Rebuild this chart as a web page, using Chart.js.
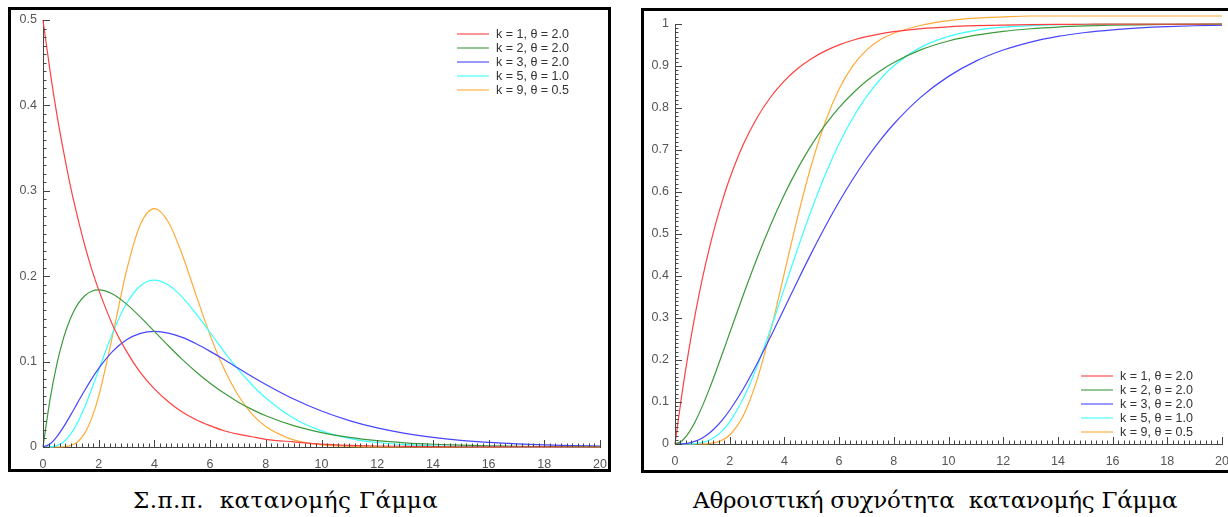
<!DOCTYPE html>
<html>
<head>
<meta charset="utf-8">
<script src="https://cdn.jsdelivr.net/npm/chart.js@4.4.1/dist/chart.umd.min.js"></script>
<style>
  body { margin: 0; width: 1228px; height: 517px; background: #fff; position: relative; overflow: hidden; }
  .frame { position: absolute; border: 3px solid #000; box-sizing: border-box; }
  .frame canvas { display: block; }
  .caption { position: absolute; font-family: "DejaVu Serif", serif; font-size: 23px; color: #000; white-space: pre; }
</style>
</head>
<body>
<div class="frame" style="left:8px;top:7px;width:603px;height:465px"><canvas id="pdfChart" width="597" height="459"></canvas></div>
<div class="frame" style="left:641px;top:8px;width:591px;height:465px"><canvas id="cdfChart" width="585" height="459"></canvas></div>
<div class="caption" style="left:133px;top:487px;letter-spacing:0.45px">Σ.π.π.  κατανομής Γάμμα</div>
<div class="caption" style="left:693px;top:487px;letter-spacing:-0.22px">Αθροιστική συχνότητα  κατανομής Γάμμα</div>
<script>
var xs = [0, 0.25, 0.5, 0.75, 1, 1.25, 1.5, 1.75, 2, 2.5, 3, 3.5, 4, 4.5, 5, 5.5, 6, 6.5, 7, 7.5, 8,
          9, 10, 11, 12, 13, 14, 15, 16, 17, 18, 19, 20];

var seriesLabels = ['k = 1, θ = 2.0', 'k = 2, θ = 2.0', 'k = 3, θ = 2.0', 'k = 5, θ = 1.0', 'k = 9, θ = 0.5'];
var seriesColors = ['#ff4040', '#3c9a3c', '#4646ff', '#3cffff', '#ffaa38'];

// density values (left chart)
var pdfK1 = [0.5, 0.441, 0.389, 0.344, 0.303, 0.268, 0.236, 0.208, 0.184, 0.143, 0.112, 0.087, 0.068, 0.053, 0.041, 0.032, 0.025, 0.019, 0.015, 0.012, 0.009,
             0.006, 0.0034, 0.002, 0.0012, 0.0008, 0.0005, 0.0003, 0.0002, 0.0001, 0.0001, 0, 0];
var pdfK2 = [0, 0.0552, 0.0974, 0.1289, 0.1516, 0.1673, 0.1771, 0.1824, 0.1839, 0.1791, 0.1673, 0.1521, 0.1353, 0.1186, 0.1026, 0.0879, 0.0747, 0.0631, 0.0528, 0.0441, 0.0366,
             0.0250, 0.0168, 0.0112, 0.0074, 0.0049, 0.0032, 0.0021, 0.0013, 0.0009, 0.0006, 0.0004, 0.0002];
var pdfK3 = [0, 0.0035, 0.0122, 0.0242, 0.0379, 0.0523, 0.0664, 0.0798, 0.0920, 0.1119, 0.1255, 0.1331, 0.1353, 0.1334, 0.1283, 0.1208, 0.1120, 0.1025, 0.0925, 0.0826, 0.0733,
             0.0562, 0.0421, 0.0309, 0.0223, 0.0159, 0.0112, 0.0078, 0.0054, 0.0037, 0.0025, 0.0017, 0.0011];
var pdfK5 = [0, 0.0001, 0.0016, 0.0062, 0.0153, 0.0291, 0.0471, 0.0679, 0.0902, 0.1336, 0.1680, 0.1888, 0.1954, 0.1898, 0.1755, 0.1558, 0.1339, 0.1118, 0.0912, 0.0729, 0.0573,
             0.0337, 0.0189, 0.0102, 0.0053, 0.0027, 0.0013, 0.0006, 0.0003, 0.0001, 0, 0, 0];
var pdfK9 = [0, 0, 0, 0.0003, 0.0017, 0.0062, 0.0162, 0.0338, 0.0595, 0.1306, 0.2065, 0.2608, 0.2792, 0.2635, 0.2252, 0.1776, 0.1310, 0.0915, 0.0609, 0.0389, 0.0240,
             0.0083, 0.0026, 0.0008, 0.0002, 0, 0, 0, 0, 0, 0, 0, 0];

// cumulative values (right chart)
var cdfK1 = [0, 0.1175, 0.2212, 0.3127, 0.3935, 0.4647, 0.5276, 0.5831, 0.6321, 0.7135, 0.7769, 0.8262, 0.8647, 0.8946, 0.9179, 0.9361, 0.9502, 0.9612, 0.9698, 0.9765, 0.9817,
             0.9889, 0.9933, 0.9959, 0.9975, 0.9985, 0.9991, 0.9994, 0.9997, 0.9998, 0.9999, 0.9999, 1.0];
var cdfK2 = [0, 0.0072, 0.0265, 0.0550, 0.0902, 0.1301, 0.1733, 0.2183, 0.2642, 0.3554, 0.4422, 0.5220, 0.5940, 0.6574, 0.7127, 0.7604, 0.8009, 0.8351, 0.8641, 0.8883, 0.9084,
             0.9389, 0.9596, 0.9734, 0.9826, 0.9887, 0.9927, 0.9953, 0.9970, 0.9981, 0.9988, 0.9992, 0.9995];
var cdfK3 = [0, 0.0003, 0.0022, 0.0067, 0.0144, 0.0257, 0.0405, 0.0588, 0.0803, 0.1315, 0.1912, 0.2560, 0.3233, 0.3907, 0.4562, 0.5185, 0.5768, 0.6304, 0.6792, 0.7229, 0.7619,
             0.8264, 0.8753, 0.9116, 0.9380, 0.9570, 0.9704, 0.9797, 0.9862, 0.9907, 0.9938, 0.9958, 0.9972];
var cdfK5 = [0, 0, 0.0002, 0.0011, 0.0037, 0.0091, 0.0186, 0.0329, 0.0527, 0.1088, 0.1847, 0.2746, 0.3712, 0.4679, 0.5595, 0.6425, 0.7149, 0.7763, 0.8270, 0.8679, 0.9004,
             0.9450, 0.9707, 0.9849, 0.9924, 0.9963, 0.9982, 0.9991, 0.9996, 0.9998, 0.9999, 1.0, 1.0];
var cdfK9 = [0, 0, 0, 0, 0.0002, 0.0011, 0.0038, 0.0099, 0.0214, 0.0681, 0.1528, 0.2709, 0.4075, 0.5443, 0.6672, 0.7680, 0.8450, 0.9002, 0.9379, 0.9626, 0.9780,
             0.9970, 1.008, 1.014, 1.017, 1.019, 1.019, 1.019, 1.019, 1.019, 1.019, 1.019, 1.019];

var xTicks = [0, 2, 4, 6, 8, 10, 12, 14, 16, 18, 20];

// draws the small tick marks pointing into the plot
var innerTicks = {
  id: 'innerTicks',
  afterDraw: function(chart, args, opts) {
    var ctx = chart.ctx;
    var sx = chart.scales.x, sy = chart.scales.y;
    var baseY = sy.getPixelForValue(sy.min);
    var baseX = sx.getPixelForValue(sx.min);
    ctx.save();
    ctx.strokeStyle = opts.color;
    ctx.lineWidth = 1;
    ctx.beginPath();
    var n = Math.round((sx.max - sx.min) / opts.xMinor);
    for (var i = 0; i <= n; i++) {
      var px = Math.round(sx.getPixelForValue(sx.min + i * opts.xMinor)) + 0.5;
      var len = (i % opts.xEvery === 0) ? 7 : 3.5;
      ctx.moveTo(px, baseY);
      ctx.lineTo(px, baseY - len);
    }
    n = Math.round((sy.max - sy.min) / opts.yMinor);
    for (var j = 0; j <= n; j++) {
      var py = Math.round(sy.getPixelForValue(sy.min + j * opts.yMinor)) + 0.5;
      var l2 = (j % opts.yEvery === 0) ? 7 : 3.5;
      ctx.moveTo(baseX, py);
      ctx.lineTo(baseX + l2, py);
    }
    ctx.stroke();
    ctx.restore();
  }
};

// legend drawn inside the plot area
var boxLegend = {
  id: 'boxLegend',
  afterDraw: function(chart, args, opts) {
    var ctx = chart.ctx, area = chart.chartArea;
    var x0 = area.right - opts.fromRight;
    var y0 = opts.fromTop != null ? area.top + opts.fromTop : area.bottom - opts.fromBottom;
    ctx.save();
    ctx.font = '12.5px "Liberation Sans", Arial, sans-serif';
    ctx.textBaseline = 'middle';
    chart.data.datasets.forEach(function(ds, i) {
      var y = y0 + i * 14;
      ctx.globalAlpha = 0.55;
      ctx.strokeStyle = ds.borderColor;
      ctx.lineWidth = 2;
      ctx.beginPath();
      ctx.moveTo(x0, y);
      ctx.lineTo(x0 + 32, y);
      ctx.stroke();
      ctx.globalAlpha = 1;
      ctx.fillStyle = '#333';
      ctx.fillText(ds.label, x0 + 39, y + 0.5);
    });
    ctx.restore();
  }
};

function makeSets(list) {
  return list.map(function(vals, i) {
    return {
      label: seriesLabels[i],
      data: xs.map(function(x, k) { return {x: x, y: vals[k]}; }),
      borderColor: seriesColors[i],
      borderWidth: 1.2,
      pointRadius: 0,
      cubicInterpolationMode: 'monotone',
      clip: false
    };
  });
}

function makeChart(id, sets, yMax, yWidth, xHeight, pad, labelPad, legendOpts) {
  var tickFont = {family: '"Liberation Sans", Arial, sans-serif', size: 12.5};
  return new Chart(document.getElementById(id), {
    type: 'line',
    data: {datasets: sets},
    options: {
      responsive: false,
      animation: false,
      events: [],
      layout: {padding: pad},
      plugins: {
        legend: {display: false},
        tooltip: {enabled: false},
        innerTicks: {color: '#444', xMinor: 0.2, xEvery: 10, yMinor: 0.01, yEvery: 10},
        boxLegend: legendOpts
      },
      scales: {
        x: {
          type: 'linear', min: 0, max: 20,
          afterBuildTicks: function(s) { s.ticks = xTicks.map(function(v) { return {value: v}; }); },
          afterFit: function(s) { s.height = xHeight; s.paddingLeft = 0; s.paddingRight = 0; },
          grid: {display: true, drawOnChartArea: false, drawTicks: false},
          border: {display: true, color: '#444', width: 1},
          ticks: {font: tickFont, color: '#555', padding: labelPad, maxRotation: 0, autoSkip: false}
        },
        y: {
          type: 'linear', min: 0, max: yMax,
          afterFit: function(s) { s.width = yWidth; s.paddingTop = 0; s.paddingBottom = 0; },
          grid: {display: true, drawOnChartArea: false, drawTicks: false},
          border: {display: true, color: '#444', width: 1},
          ticks: {font: tickFont, color: '#555', padding: 6, stepSize: 0.1,
                  callback: function(v) { return Math.round(v * 10) / 10; }}
        }
      }
    },
    plugins: [innerTicks, boxLegend]
  });
}

makeChart('pdfChart', makeSets([pdfK1, pdfK2, pdfK3, pdfK5, pdfK9]), 0.5, 32, 22,
  {top: 10, right: 8, left: 0, bottom: 0}, 10, {fromRight: 143, fromTop: 14});
makeChart('cdfChart', makeSets([cdfK1, cdfK2, cdfK3, cdfK5, cdfK9]), 1, 31, 26,
  {top: 13, right: 7, left: 0, bottom: 0}, 10, {fromRight: 141, fromBottom: 68});
</script>
</body>
</html>
